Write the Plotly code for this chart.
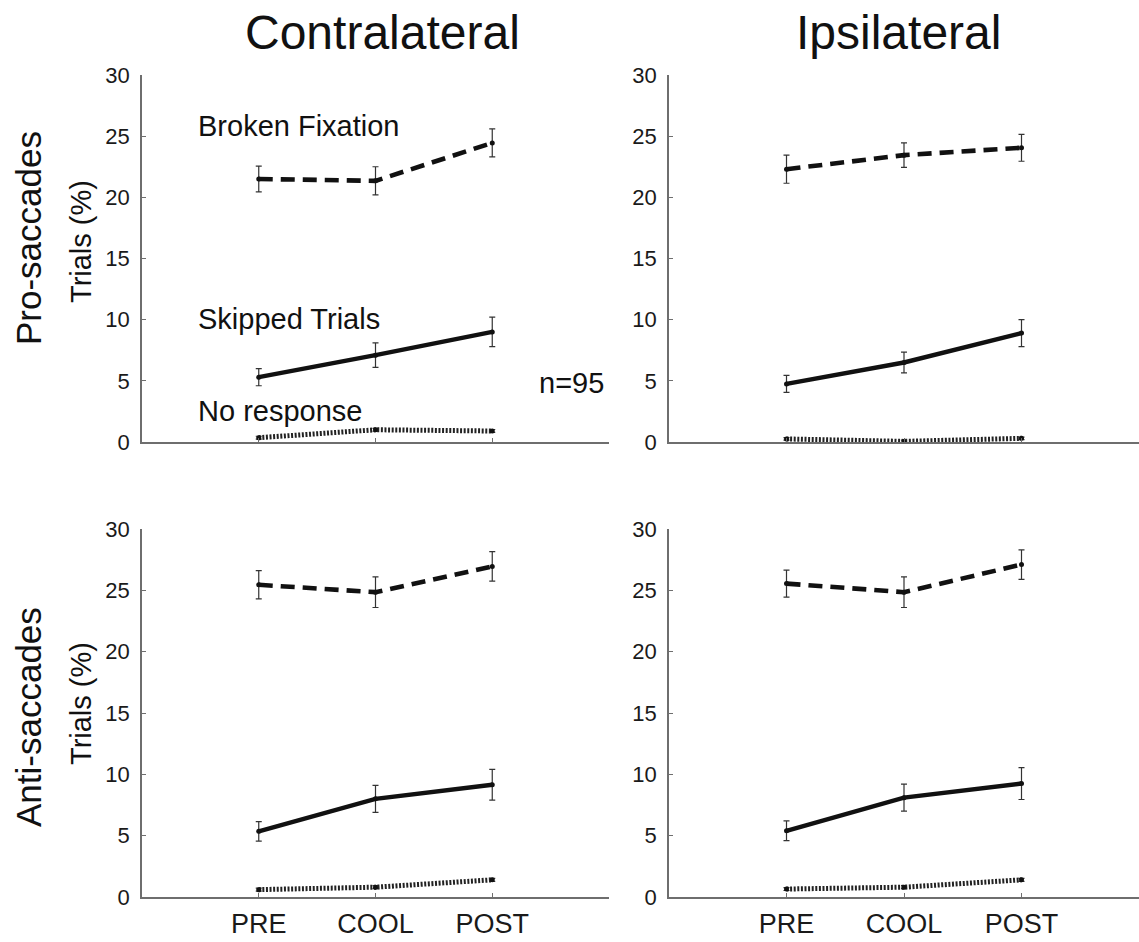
import plotly.graph_objects as go

W, H = 1139, 942

conditions = ["PRE", "COOL", "POST"]
cond_pos = [1, 2, 3]

# Pro-saccades, contralateral
pro_contra_broken = [21.5, 21.35, 24.45]
pro_contra_broken_err = [1.05, 1.15, 1.15]
pro_contra_skipped = [5.3, 7.1, 9.0]
pro_contra_skipped_err = [0.7, 1.0, 1.2]
pro_contra_noresp = [0.35, 1.0, 0.9]
pro_contra_noresp_err = [0.12, 0.12, 0.12]

# Pro-saccades, ipsilateral
pro_ipsi_broken = [22.3, 23.45, 24.05]
pro_ipsi_broken_err = [1.15, 1.0, 1.1]
pro_ipsi_skipped = [4.75, 6.5, 8.9]
pro_ipsi_skipped_err = [0.7, 0.85, 1.1]
pro_ipsi_noresp = [0.25, 0.05, 0.3]
pro_ipsi_noresp_err = [0.1, 0.1, 0.1]

# Anti-saccades, contralateral
anti_contra_broken = [25.45, 24.85, 26.95]
anti_contra_broken_err = [1.15, 1.25, 1.2]
anti_contra_skipped = [5.35, 8.0, 9.15]
anti_contra_skipped_err = [0.8, 1.1, 1.25]
anti_contra_noresp = [0.6, 0.8, 1.4]
anti_contra_noresp_err = [0.12, 0.12, 0.12]

# Anti-saccades, ipsilateral
anti_ipsi_broken = [25.55, 24.85, 27.1]
anti_ipsi_broken_err = [1.1, 1.25, 1.2]
anti_ipsi_skipped = [5.4, 8.1, 9.25]
anti_ipsi_skipped_err = [0.8, 1.1, 1.3]
anti_ipsi_noresp = [0.65, 0.8, 1.4]
anti_ipsi_noresp_err = [0.12, 0.12, 0.12]

y_ticks = [0, 5, 10, 15, 20, 25, 30]

FONT = "Liberation Sans, Arial, Helvetica, sans-serif"
AXIS_GREY = "#6e6e6e"
INK = "#111111"

panels = [
    ("x", "y", [(pro_contra_broken, pro_contra_broken_err),
                (pro_contra_skipped, pro_contra_skipped_err),
                (pro_contra_noresp, pro_contra_noresp_err)]),
    ("x2", "y2", [(pro_ipsi_broken, pro_ipsi_broken_err),
                  (pro_ipsi_skipped, pro_ipsi_skipped_err),
                  (pro_ipsi_noresp, pro_ipsi_noresp_err)]),
    ("x3", "y3", [(anti_contra_broken, anti_contra_broken_err),
                  (anti_contra_skipped, anti_contra_skipped_err),
                  (anti_contra_noresp, anti_contra_noresp_err)]),
    ("x4", "y4", [(anti_ipsi_broken, anti_ipsi_broken_err),
                  (anti_ipsi_skipped, anti_ipsi_skipped_err),
                  (anti_ipsi_noresp, anti_ipsi_noresp_err)]),
]

styles = [
    dict(width=4.6, dash="14px,8px", color=INK),        # broken fixation
    dict(width=4.4, dash="solid", color=INK),           # skipped trials
    dict(width=5, dash="2px,1.6px", color="#222222"),   # no response
]

fig = go.Figure()
for xa, ya, series in panels:
    for (vals, errs), st in zip(series, styles):
        fig.add_trace(go.Scatter(
            x=cond_pos, y=vals, xaxis=xa, yaxis=ya,
            mode="lines+markers",
            line=st,
            marker=dict(size=5, color=INK),
            error_y=dict(type="data", array=errs, visible=True,
                         color="#333333", thickness=1.2, width=3),
            cliponaxis=False,
            showlegend=False,
            hoverinfo="skip",
        ))

# panel geometry (pixels -> paper fractions)
left_dom = [142 / W, 609 / W]
right_dom = [669 / W, 1.0]
top_dom = [(H - 442) / H, (H - 75) / H]
bot_dom = [(H - 897) / H, (H - 529) / H]


def xaxis_cfg(dom, anchor, labels):
    return dict(
        domain=dom, anchor=anchor, range=[0, 4], automargin=False,
        tickmode="array", tickvals=cond_pos, ticktext=conditions,
        showticklabels=labels, ticks="inside", ticklen=4, tickwidth=1,
        tickcolor=AXIS_GREY, showline=True, linecolor=AXIS_GREY, linewidth=1.5,
        showgrid=False, zeroline=False, ticklabelstandoff=2,
        tickfont=dict(family=FONT, size=27, color="#1a1a1a"),
    )


def yaxis_cfg(dom, anchor):
    return dict(
        domain=dom, anchor=anchor, range=[0, 30], automargin=False,
        tickmode="array", tickvals=y_ticks,
        ticks="inside", ticklen=4, tickwidth=1, tickcolor=AXIS_GREY,
        showline=True, linecolor=AXIS_GREY, linewidth=1.5,
        showgrid=False, zeroline=False, ticklabelstandoff=6,
        tickfont=dict(family=FONT, size=22, color="#1a1a1a"),
    )


fig.update_layout(
    width=W, height=H,
    margin=dict(l=0, r=0, t=0, b=0, pad=0, autoexpand=False),
    paper_bgcolor="white", plot_bgcolor="white",
    showlegend=False,
    xaxis=xaxis_cfg(left_dom, "y", False),
    yaxis=yaxis_cfg(top_dom, "x"),
    xaxis2=xaxis_cfg(right_dom, "y2", False),
    yaxis2=yaxis_cfg(top_dom, "x2"),
    xaxis3=xaxis_cfg(left_dom, "y3", True),
    yaxis3=yaxis_cfg(bot_dom, "x3"),
    xaxis4=xaxis_cfg(right_dom, "y4", True),
    yaxis4=yaxis_cfg(bot_dom, "x4"),
)


def px_note(text, x, y, size, xanchor="center", angle=0):
    fig.add_annotation(
        text=text, xref="paper", yref="paper",
        x=x / W, y=(H - y) / H, xanchor=xanchor, yanchor="middle",
        showarrow=False, textangle=angle,
        font=dict(family=FONT, size=size, color="#111111"),
    )


# column titles
px_note("Contralateral", 382, 33, 48)
px_note("Ipsilateral", 898, 33, 48)

# row labels and y-axis titles
px_note("Pro-saccades", 28, 238, 35, angle=-90)
px_note("Anti-saccades", 28, 717, 35, angle=-90)
px_note("Trials (%)", 81, 242, 29, angle=-90)
px_note("Trials (%)", 81, 704, 29, angle=-90)

# series labels in the first panel
px_note("Broken Fixation", 196, 126, 29, xanchor="left")
px_note("Skipped Trials", 196, 319, 29, xanchor="left")
px_note("No response", 196, 411, 29, xanchor="left")
px_note("n=95", 571, 383, 29)

fig.write_html("out.html")
